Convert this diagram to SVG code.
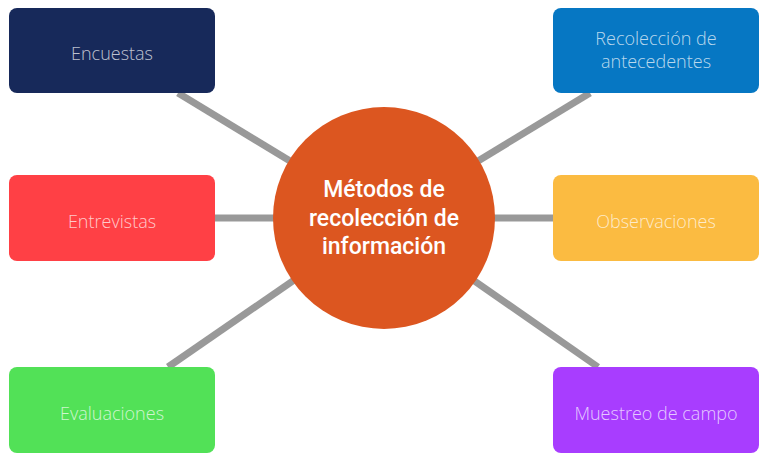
<svg xmlns="http://www.w3.org/2000/svg" width="768" height="461" viewBox="0 0 768 461">
<style>
.box{stroke:none}
.lbl{font-family:"Open Sans","Liberation Sans",sans-serif;font-weight:300;font-size:18px;fill:#ffffff;fill-opacity:0.72;text-anchor:middle}
.conn line{stroke:#999999;stroke-width:7}
.ctr{font-family:Roboto,"Liberation Sans",sans-serif;font-weight:500;font-size:23px;fill:#ffffff;text-anchor:middle}
</style>
<rect width="768" height="461" fill="#ffffff"/>
<g id="connectors" class="conn">
<line x1="178" y1="93" x2="384" y2="218"/>
<line x1="215" y1="218" x2="384" y2="218"/>
<line x1="168" y1="367" x2="384" y2="218"/>
<line x1="590" y1="93" x2="384" y2="218"/>
<line x1="553" y1="218" x2="384" y2="218"/>
<line x1="598" y1="367" x2="384" y2="218"/>
</g>
<g id="encuestas">
<rect class="box" x="9" y="8" width="206" height="85" rx="8" fill="#17295a"/>
<text class="lbl" x="112" y="60">Encuestas</text>
</g>
<g id="entrevistas">
<rect class="box" x="9" y="175" width="206" height="86" rx="8" fill="#ff4045"/>
<text class="lbl" x="112" y="228">Entrevistas</text>
</g>
<g id="evaluaciones">
<rect class="box" x="9" y="367" width="206" height="86" rx="8" fill="#52e157"/>
<text class="lbl" x="112" y="420">Evaluaciones</text>
</g>
<g id="recoleccion">
<rect class="box" x="553" y="8" width="206" height="85" rx="8" fill="#0677c3"/>
<text class="lbl" x="656" y="45">Recolección de</text>
<text class="lbl" x="656" y="68">antecedentes</text>
</g>
<g id="observaciones">
<rect class="box" x="553" y="175" width="206" height="86" rx="8" fill="#fbbb41"/>
<text class="lbl" x="656" y="228">Observaciones</text>
</g>
<g id="muestreo">
<rect class="box" x="553" y="367" width="206" height="86" rx="8" fill="#a83dff"/>
<text class="lbl" x="656" y="420">Muestreo de campo</text>
</g>
<g id="centro">
<circle cx="384" cy="218" r="111" fill="#dc5620"/>
<text class="ctr" x="384" y="197">Métodos de</text>
<text class="ctr" x="384" y="226">recolección de</text>
<text class="ctr" x="384" y="254">información</text>
</g>
</svg>
